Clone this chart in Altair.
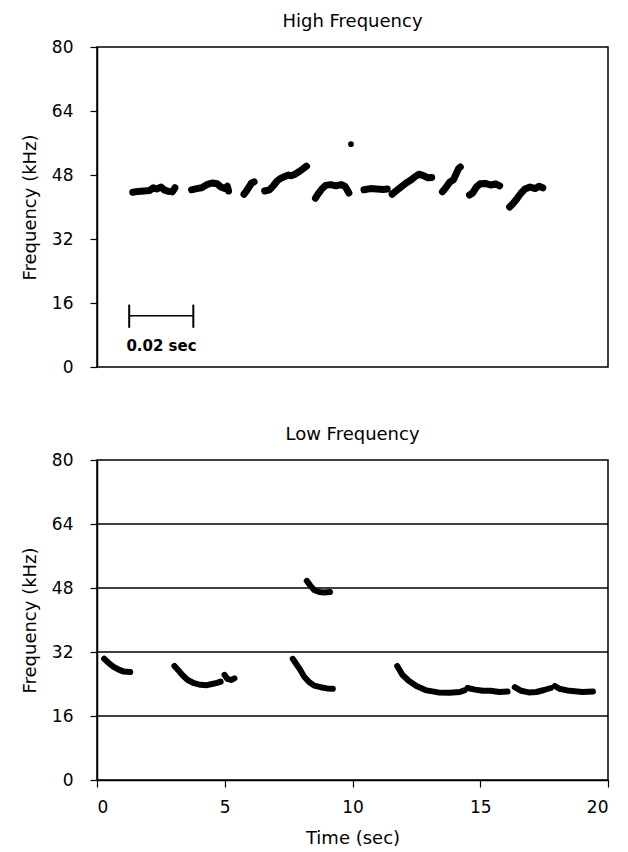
import altair as alt
import pandas as pd

# ---------------- High frequency panel (time in s, frequency in kHz) ----------------
hf_time = [1.40, 1.60, 1.85, 2.05, 2.20, 2.35, 2.50, 2.65, 2.80,
           2.95, 3.05,
           3.70, 3.90, 4.10, 4.30, 4.50, 4.70, 4.85, 5.00, 5.10, 5.15,
           5.75, 5.85, 5.95, 6.05, 6.15,
           6.56, 6.75, 6.90, 7.05, 7.20, 7.35, 7.50, 7.60, 7.75, 7.90, 8.05, 8.20,
           8.55, 8.65, 8.80, 8.95, 9.15, 9.35, 9.55, 9.70, 9.80, 9.86,
           10.45, 10.70, 10.95, 11.20, 11.36,
           11.55, 11.70, 11.90, 12.10, 12.30, 12.45, 12.60, 12.80, 12.95, 13.10,
           13.52, 13.65, 13.80, 13.95, 14.05, 14.15, 14.22,
           14.58, 14.70, 14.85, 15.00, 15.20, 15.40, 15.60, 15.76,
           16.15, 16.30, 16.45, 16.60, 16.75, 16.95, 17.15, 17.30, 17.45]
hf_freq = [43.7, 43.9, 44.0, 44.1, 44.8, 44.5, 45.0, 44.2, 43.9,
           43.8, 44.8,
           44.3, 44.6, 44.8, 45.6, 46.0, 45.8, 45.0, 44.6, 45.2, 44.0,
           43.2, 44.0, 45.0, 46.0, 46.3,
           44.0, 44.3, 45.3, 46.5, 47.2, 47.6, 48.0, 47.8, 48.2, 48.8, 49.5, 50.2,
           42.2, 43.2, 44.5, 45.4, 45.6, 45.3, 45.6, 45.2, 44.2, 43.5,
           44.3, 44.6, 44.5, 44.4, 44.5,
           43.2, 44.0, 45.0, 46.0, 46.8, 47.6, 48.2, 47.8, 47.3, 47.4,
           43.8, 44.8, 46.2, 46.8, 48.2, 49.6, 50.0,
           43.0, 43.5, 45.0, 45.8, 45.9, 45.5, 45.8, 45.3,
           40.0, 41.0, 42.2, 43.5, 44.5, 45.0, 44.6, 45.2, 44.8]
hf_seg = ([1] * 9 + [2] * 2 + [3] * 10 + [4] * 5 + [5] * 12 + [6] * 10 +
          [7] * 5 + [8] * 10 + [9] * 7 + [10] * 8 + [11] * 9)
hf_dot_time = [9.94]
hf_dot_freq = [55.7]

# ---------------- Low frequency panel ----------------
lf_time = [0.28, 0.45, 0.65, 0.85, 1.05, 1.30,
           3.03, 3.20, 3.35, 3.55, 3.80, 4.05, 4.30, 4.50, 4.70, 4.84,
           4.99, 5.10, 5.25, 5.38,
           7.66, 7.80, 7.95, 8.10, 8.30, 8.50, 8.75, 9.00, 9.23,
           8.21, 8.35, 8.50, 8.70, 8.90, 9.12,
           11.75, 11.95, 12.20, 12.50, 12.90, 13.35, 13.80, 14.20, 14.38,
           14.50, 14.80, 15.10, 15.40, 15.75, 16.07,
           16.35, 16.60, 16.90, 17.20, 17.50, 17.76,
           17.92, 18.10, 18.40, 18.70, 19.00, 19.41]
lf_freq = [30.3, 29.3, 28.3, 27.6, 27.1, 27.0,
           28.5, 27.3, 26.2, 25.0, 24.2, 23.8, 23.7, 24.0, 24.3, 24.6,
           26.3, 25.3, 25.0, 25.4,
           30.3, 29.0, 27.6, 25.9, 24.5, 23.6, 23.2, 22.9, 22.8,
           49.8, 48.6, 47.5, 47.0, 46.9, 47.0,
           28.5, 26.3, 24.8, 23.5, 22.4, 21.9, 21.8, 22.0, 22.4,
           23.0, 22.6, 22.3, 22.3, 22.0, 22.1,
           23.2, 22.3, 21.9, 22.0, 22.5, 23.0,
           23.5, 22.8, 22.4, 22.2, 22.0, 22.1]
lf_seg = ([1] * 6 + [2] * 10 + [3] * 4 + [4] * 9 + [5] * 6 + [6] * 9 +
          [7] * 6 + [8] * 6 + [9] * 6)

grid_levels = [16, 32, 48, 64]
y_ticks = [0, 16, 32, 48, 64, 80]
x_ticks = [0, 5, 10, 15, 20]

# scale bar annotation (0.02 sec)
bar_start, bar_end, bar_level = 1.26, 3.77, 12.8
cap_low, cap_high = 9.8, 15.6
bar_label = "0.02 sec"
bar_label_t, bar_label_f = 1.15, 5.2

W, H = 511, 320
FONT = "DejaVu Sans"

hf_df = pd.DataFrame({"t": hf_time, "f": hf_freq, "seg": hf_seg})
hf_df["i"] = range(len(hf_df))
lf_df = pd.DataFrame({"t": lf_time, "f": lf_freq, "seg": lf_seg})
lf_df["i"] = range(len(lf_df))
dot_df = pd.DataFrame({"t": hf_dot_time, "f": hf_dot_freq})

xs = alt.Scale(domain=[0, 20], nice=False, zero=False)
ys = alt.Scale(domain=[0, 80], nice=False)

yaxis = alt.Axis(values=y_ticks, title="Frequency (kHz)", labelPadding=17,
                 titlePadding=12, tickSize=7, domainWidth=1.5, tickWidth=1.2)

# ---- top panel
hf_lines = alt.Chart(hf_df).mark_line(color="black", strokeWidth=7, strokeJoin="round",
                                      strokeCap="round").encode(
    x=alt.X("t:Q", scale=xs, axis=None),
    y=alt.Y("f:Q", scale=ys, axis=yaxis),
    detail="seg:N",
    order="i:Q",
)
hf_dot = alt.Chart(dot_df).mark_circle(color="black", size=32, opacity=1).encode(
    x=alt.X("t:Q", scale=xs), y=alt.Y("f:Q", scale=ys))

bar_df = pd.DataFrame({"t": [bar_start], "t2": [bar_end], "f": [bar_level]})
bar_h = alt.Chart(bar_df).mark_rule(color="black", strokeWidth=1.6).encode(
    x="t:Q", x2="t2:Q", y="f:Q")
caps_df = pd.DataFrame({"t": [bar_start, bar_end], "lo": [cap_low, cap_low],
                        "hi": [cap_high, cap_high]})
bar_caps = alt.Chart(caps_df).mark_rule(color="black", strokeWidth=2).encode(
    x="t:Q", y="lo:Q", y2="hi:Q")
lab_df = pd.DataFrame({"t": [bar_label_t], "f": [bar_label_f], "txt": [bar_label]})
bar_text = alt.Chart(lab_df).mark_text(align="left", baseline="middle", font=FONT,
                                       fontSize=15, fontWeight="bold",
                                       color="black").encode(
    x="t:Q", y="f:Q", text="txt:N")

top = alt.layer(hf_lines, hf_dot, bar_h, bar_caps, bar_text).properties(
    width=W, height=H, title=alt.TitleParams("High Frequency", anchor="middle"))

# ---- bottom panel
grid_df = pd.DataFrame({"f": grid_levels})
grid = alt.Chart(grid_df).mark_rule(color="black", strokeWidth=1.5).encode(
    y=alt.Y("f:Q", scale=ys))
lf_lines = alt.Chart(lf_df).mark_line(color="black", strokeWidth=6, strokeJoin="round",
                                      strokeCap="round").encode(
    x=alt.X("t:Q", scale=xs,
            axis=alt.Axis(values=x_ticks, title="Time (sec)", labelPadding=12,
                          titlePadding=14, tickSize=7, domainWidth=1.5, tickWidth=1.2,
                          labelAngle=0)),
    y=alt.Y("f:Q", scale=ys, axis=yaxis),
    detail="seg:N",
    order="i:Q",
)
bottom = alt.layer(grid, lf_lines).properties(
    width=W, height=H, title=alt.TitleParams("Low Frequency", anchor="middle"))

chart = alt.vconcat(top, bottom, spacing=49).configure_view(
    stroke="black", strokeWidth=1.5
).configure_axis(
    domainColor="black", tickColor="black", labelColor="black", titleColor="black",
    labelFont=FONT, titleFont=FONT, labelFontSize=17, titleFontSize=18,
    titleFontWeight="normal", grid=False,
).configure_title(
    font=FONT, fontSize=18, fontWeight="normal", offset=7, color="black"
).properties(background="white",
             padding={"left": 12, "top": 4, "right": 5, "bottom": 0})

chart.save("out.html", embed_options={"renderer": "svg", "actions": False})
